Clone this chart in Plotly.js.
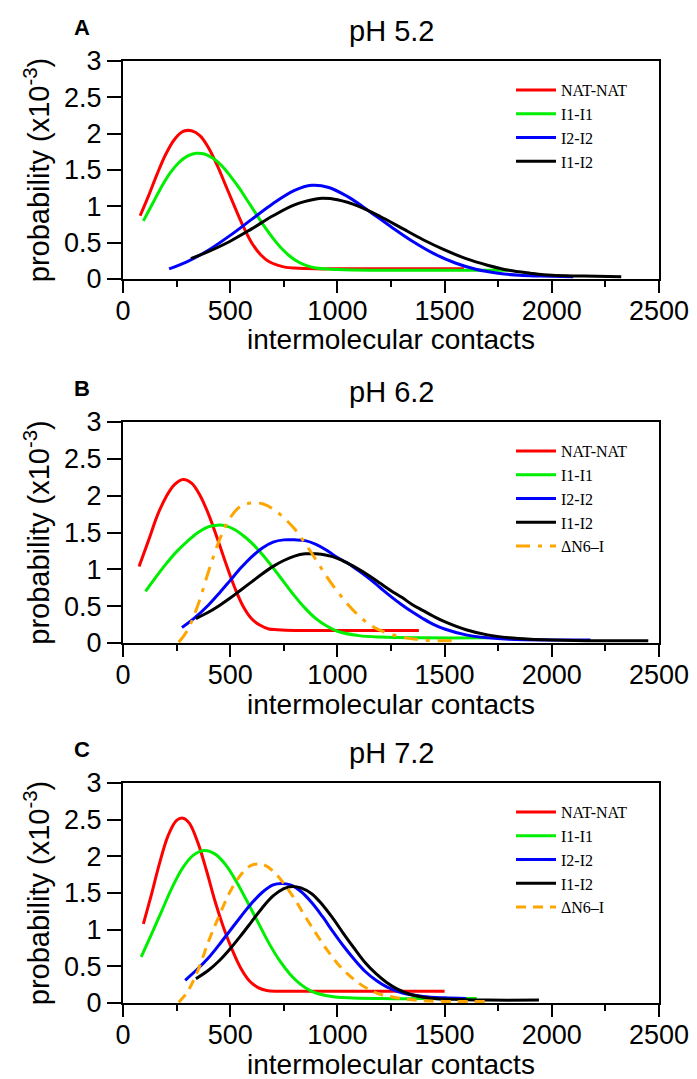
<!DOCTYPE html>
<html>
<head>
<meta charset="utf-8">
<script src="https://cdn.plot.ly/plotly-3.0.1.min.js"></script>
<style>html,body{margin:0;padding:0;background:#fff;}#chart{width:697px;height:1079px;}</style>
</head>
<body>
<div id="chart"></div>
<script>
// ---------- Panel titles / labels ----------
const panelLetters = ["A", "B", "C"];
const panelTitles = ["pH 5.2", "pH 6.2", "pH 7.2"];
const seriesNames = ["NAT-NAT", "I1-I1", "I2-I2", "I1-I2", "ΔN6–I"];
const xAxisTitle = "intermolecular contacts";
const yAxisTitle = "probability (x10<sup>-3</sup>)";
const xTickVals = [0, 500, 1000, 1500, 2000, 2500];
const yTickVals = [0, 0.5, 1, 1.5, 2, 2.5, 3];

// ---------- Panel A (pH 5.2) ----------
const natA_x = [80, 120, 160, 200, 240, 280, 320, 360, 400, 440, 480, 520, 560, 600, 640, 680, 720, 760, 800, 900, 1000, 1200, 1400, 1590];
const natA_y = [0.87, 1.15, 1.45, 1.72, 1.92, 2.03, 2.04, 1.97, 1.80, 1.56, 1.28, 1.00, 0.73, 0.50, 0.34, 0.24, 0.19, 0.16, 0.15, 0.14, 0.14, 0.14, 0.14, 0.14];
const i1A_x = [95, 140, 180, 220, 260, 300, 340, 380, 420, 460, 500, 540, 580, 620, 660, 700, 740, 780, 820, 860, 900, 1000, 1200, 1400, 1600, 1795];
const i1A_y = [0.80, 1.05, 1.27, 1.46, 1.60, 1.69, 1.73, 1.72, 1.66, 1.56, 1.42, 1.26, 1.08, 0.90, 0.72, 0.56, 0.42, 0.31, 0.23, 0.18, 0.15, 0.13, 0.12, 0.12, 0.12, 0.12];
const i2A_x = [215, 300, 400, 500, 600, 700, 800, 880, 960, 1050, 1150, 1250, 1350, 1450, 1550, 1650, 1750, 1850, 1950, 2100];
const i2A_y = [0.14, 0.24, 0.40, 0.60, 0.82, 1.04, 1.22, 1.29, 1.26, 1.13, 0.93, 0.72, 0.52, 0.35, 0.22, 0.13, 0.08, 0.05, 0.04, 0.03];
const i12A_x = [317, 400, 500, 600, 700, 800, 900, 930, 1000, 1100, 1200, 1300, 1400, 1500, 1600, 1700, 1800, 1900, 2000, 2150, 2324];
const i12A_y = [0.28, 0.38, 0.52, 0.69, 0.87, 1.02, 1.10, 1.11, 1.09, 1.00, 0.86, 0.70, 0.54, 0.40, 0.28, 0.19, 0.12, 0.08, 0.05, 0.04, 0.03];

// ---------- Panel B (pH 6.2) ----------
const natB_x = [75, 120, 160, 200, 240, 280, 320, 360, 400, 440, 480, 520, 560, 600, 640, 680, 720, 800, 1000, 1200, 1380];
const natB_y = [1.04, 1.40, 1.73, 1.98, 2.15, 2.22, 2.17, 2.00, 1.74, 1.42, 1.08, 0.76, 0.50, 0.33, 0.24, 0.19, 0.18, 0.17, 0.17, 0.17, 0.17];
const i1B_x = [105, 150, 200, 250, 300, 350, 400, 440, 480, 520, 560, 600, 650, 700, 750, 800, 850, 900, 950, 1000, 1100, 1200, 1400, 1700];
const i1B_y = [0.70, 0.88, 1.07, 1.24, 1.38, 1.50, 1.58, 1.60, 1.59, 1.54, 1.46, 1.36, 1.20, 1.02, 0.83, 0.64, 0.47, 0.33, 0.23, 0.16, 0.10, 0.08, 0.07, 0.07];
const i2B_x = [275, 330, 400, 450, 500, 550, 600, 650, 700, 750, 800, 850, 900, 950, 1000, 1050, 1100, 1150, 1200, 1250, 1300, 1350, 1400, 1450, 1500, 1600, 1700, 1800, 2000, 2180];
const i2B_y = [0.21, 0.33, 0.52, 0.68, 0.85, 1.02, 1.17, 1.29, 1.37, 1.40, 1.40, 1.39, 1.34, 1.26, 1.16, 1.08, 0.98, 0.87, 0.75, 0.63, 0.52, 0.42, 0.33, 0.25, 0.19, 0.11, 0.07, 0.05, 0.04, 0.04];
const i12B_x = [340, 400, 450, 500, 550, 600, 650, 700, 750, 800, 850, 900, 950, 1000, 1050, 1100, 1150, 1200, 1250, 1300, 1350, 1400, 1450, 1500, 1600, 1700, 1800, 1900, 2000, 2200, 2450];
const i12B_y = [0.33, 0.42, 0.51, 0.61, 0.72, 0.83, 0.94, 1.04, 1.12, 1.18, 1.21, 1.21, 1.19, 1.15, 1.08, 1.00, 0.91, 0.81, 0.71, 0.62, 0.52, 0.44, 0.36, 0.29, 0.18, 0.11, 0.07, 0.05, 0.04, 0.03, 0.03];
const dn6B_x = [260, 300, 350, 400, 450, 500, 550, 600, 650, 700, 750, 800, 850, 900, 950, 1000, 1050, 1100, 1150, 1200, 1300, 1400, 1550];
const dn6B_y = [0.01, 0.17, 0.52, 0.98, 1.40, 1.70, 1.86, 1.90, 1.89, 1.82, 1.70, 1.55, 1.35, 1.13, 0.90, 0.70, 0.52, 0.37, 0.25, 0.17, 0.08, 0.04, 0.03];

// ---------- Panel C (pH 7.2) ----------
const natC_x = [95, 130, 170, 210, 250, 280, 310, 350, 390, 430, 470, 510, 550, 590, 630, 670, 720, 800, 1000, 1200, 1500];
const natC_y = [1.08, 1.45, 1.90, 2.28, 2.49, 2.52, 2.45, 2.18, 1.80, 1.38, 1.02, 0.72, 0.47, 0.30, 0.21, 0.17, 0.16, 0.16, 0.16, 0.16, 0.16];
const i1C_x = [85, 130, 180, 230, 280, 330, 380, 430, 480, 530, 580, 630, 680, 730, 780, 830, 880, 950, 1050, 1200, 1400, 1650];
const i1C_y = [0.63, 0.92, 1.25, 1.58, 1.85, 2.02, 2.08, 2.03, 1.88, 1.65, 1.38, 1.10, 0.82, 0.58, 0.39, 0.25, 0.16, 0.10, 0.07, 0.06, 0.06, 0.06];
const i2C_x = [290, 350, 400, 450, 500, 550, 600, 650, 700, 740, 780, 830, 880, 930, 980, 1030, 1080, 1130, 1180, 1230, 1300, 1400, 1500, 1600];
const i2C_y = [0.31, 0.47, 0.62, 0.80, 0.99, 1.18, 1.36, 1.51, 1.61, 1.63, 1.61, 1.52, 1.37, 1.18, 0.97, 0.77, 0.59, 0.43, 0.31, 0.22, 0.14, 0.09, 0.07, 0.06];
const i12C_x = [340, 400, 450, 500, 550, 600, 650, 700, 750, 790, 830, 880, 930, 980, 1030, 1080, 1130, 1180, 1230, 1280, 1350, 1450, 1550, 1700, 1940];
const i12C_y = [0.33, 0.45, 0.58, 0.74, 0.92, 1.11, 1.30, 1.46, 1.56, 1.59, 1.57, 1.49, 1.34, 1.15, 0.94, 0.74, 0.55, 0.40, 0.28, 0.19, 0.11, 0.06, 0.05, 0.04, 0.04];
const dn6C_x = [260, 300, 350, 400, 450, 500, 550, 600, 650, 700, 750, 800, 850, 900, 950, 1000, 1050, 1100, 1150, 1200, 1300, 1400, 1550, 1690];
const dn6C_y = [0.01, 0.15, 0.45, 0.85, 1.20, 1.52, 1.75, 1.88, 1.89, 1.80, 1.63, 1.42, 1.18, 0.95, 0.73, 0.54, 0.39, 0.27, 0.18, 0.12, 0.06, 0.03, 0.02, 0.02];

// ---------- Build ----------
const colors = ["#ff0000", "#00ee00", "#0000ff", "#000000", "#ffa500"];
const panels = [
  {xs: [natA_x, i1A_x, i2A_x, i12A_x], ys: [natA_y, i1A_y, i2A_y, i12A_y], dash: null},
  {xs: [natB_x, i1B_x, i2B_x, i12B_x, dn6B_x], ys: [natB_y, i1B_y, i2B_y, i12B_y, dn6B_y], dash: "14px,8px,4px,8px"},
  {xs: [natC_x, i1C_x, i2C_x, i12C_x, dn6C_x], ys: [natC_y, i1C_y, i2C_y, i12C_y, dn6C_y], dash: "10px,7px"}
];
const legendIds = ["legend", "legend2", "legend3"];
const traces = [];
panels.forEach((p, pi) => {
  const ax = pi === 0 ? "" : String(pi + 1);
  p.xs.forEach((xv, si) => {
    traces.push({
      type: "scatter", mode: "lines",
      x: xv, y: p.ys[si],
      name: seriesNames[si],
      xaxis: "x" + ax, yaxis: "y" + ax,
      legend: legendIds[pi],
      line: {color: colors[si], width: 3, shape: "spline", smoothing: 1,
             dash: si === 4 ? p.dash : "solid"},
      hoverinfo: "skip"
    });
  });
});

const H = 942; // plot-area total height in px (t=61, b=76)
function dom(topPx, botPx) { return [(1003 - botPx) / H, (1003 - topPx) / H]; }
const domains = [dom(61, 279), dom(422, 643), dom(783, 1003)];
const tickFont = {family: "Liberation Sans, Arial, sans-serif", size: 27, color: "#000"};
const titleFont = {family: "Liberation Sans, Arial, sans-serif", size: 28, color: "#000"};

const layout = {
  width: 697, height: 1079,
  margin: {l: 123, r: 38, t: 61, b: 76},
  paper_bgcolor: "#fff", plot_bgcolor: "#fff",
  showlegend: true,
  annotations: [],
  font: {family: "Liberation Sans, Arial, sans-serif", color: "#000"}
};
[0, 1, 2].forEach(i => {
  const ax = i === 0 ? "" : String(i + 1);
  layout["xaxis" + ax] = {
    domain: [0, 1], anchor: "y" + ax, range: [0, 2500],
    tickvals: xTickVals, ticks: "outside", ticklen: 12, tickwidth: 2, tickcolor: "#000",
    ticklabelstandoff: -5,
    minor: {dtick: 250, tick0: 0, ticks: "outside", ticklen: 6, tickwidth: 2, tickcolor: "#000", showgrid: false},
    showline: true, linewidth: 2, linecolor: "#000", mirror: true,
    showgrid: false, zeroline: false, tickfont: tickFont
  };
  layout["yaxis" + ax] = {
    domain: domains[i], anchor: "x" + ax, range: [0, 3],
    tickvals: yTickVals, ticks: "outside", ticklen: 14, tickwidth: 2, tickcolor: "#000",
    showline: true, linewidth: 2, linecolor: "#000", mirror: true,
    showgrid: false, zeroline: false, tickfont: tickFont,
    title: {text: yAxisTitle, font: {family: titleFont.family, size: 29, color: "#000"}, standoff: 6}
  };
  const topPaper = domains[i][1];
  const botPaper = domains[i][0];
  layout.annotations.push({
    text: panelTitles[i], xref: "paper", yref: "paper", x: 0.5, y: topPaper + 30 / H,
    xanchor: "center", yanchor: "middle", showarrow: false,
    font: {family: titleFont.family, size: 29, color: "#000"}
  });
  layout.annotations.push({
    text: xAxisTitle, xref: "paper", yref: "paper", x: 0.5, y: botPaper - 61 / H,
    xanchor: "center", yanchor: "middle", showarrow: false, font: titleFont
  });
  layout.annotations.push({
    text: "<b>" + panelLetters[i] + "</b>", xref: "paper", yref: "paper",
    x: (82 - 123) / 536, y: topPaper + 34 / H,
    xanchor: "center", yanchor: "middle", showarrow: false,
    font: {family: "Liberation Sans, Arial, sans-serif", size: 22, color: "#000"}
  });
  layout[legendIds[i]] = {
    x: (511 - 123) / 536, y: topPaper - 12 / H, xanchor: "left", yanchor: "top",
    xref: "paper", yref: "paper",
    bgcolor: "rgba(0,0,0,0)", borderwidth: 0, itemwidth: 40,
    font: {family: "Liberation Serif, Times New Roman, serif", size: 16, color: "#000"},
    tracegroupgap: 0
  };
});

Plotly.newPlot("chart", traces, layout, {staticPlot: true, displayModeBar: false});
</script>
</body>
</html>
